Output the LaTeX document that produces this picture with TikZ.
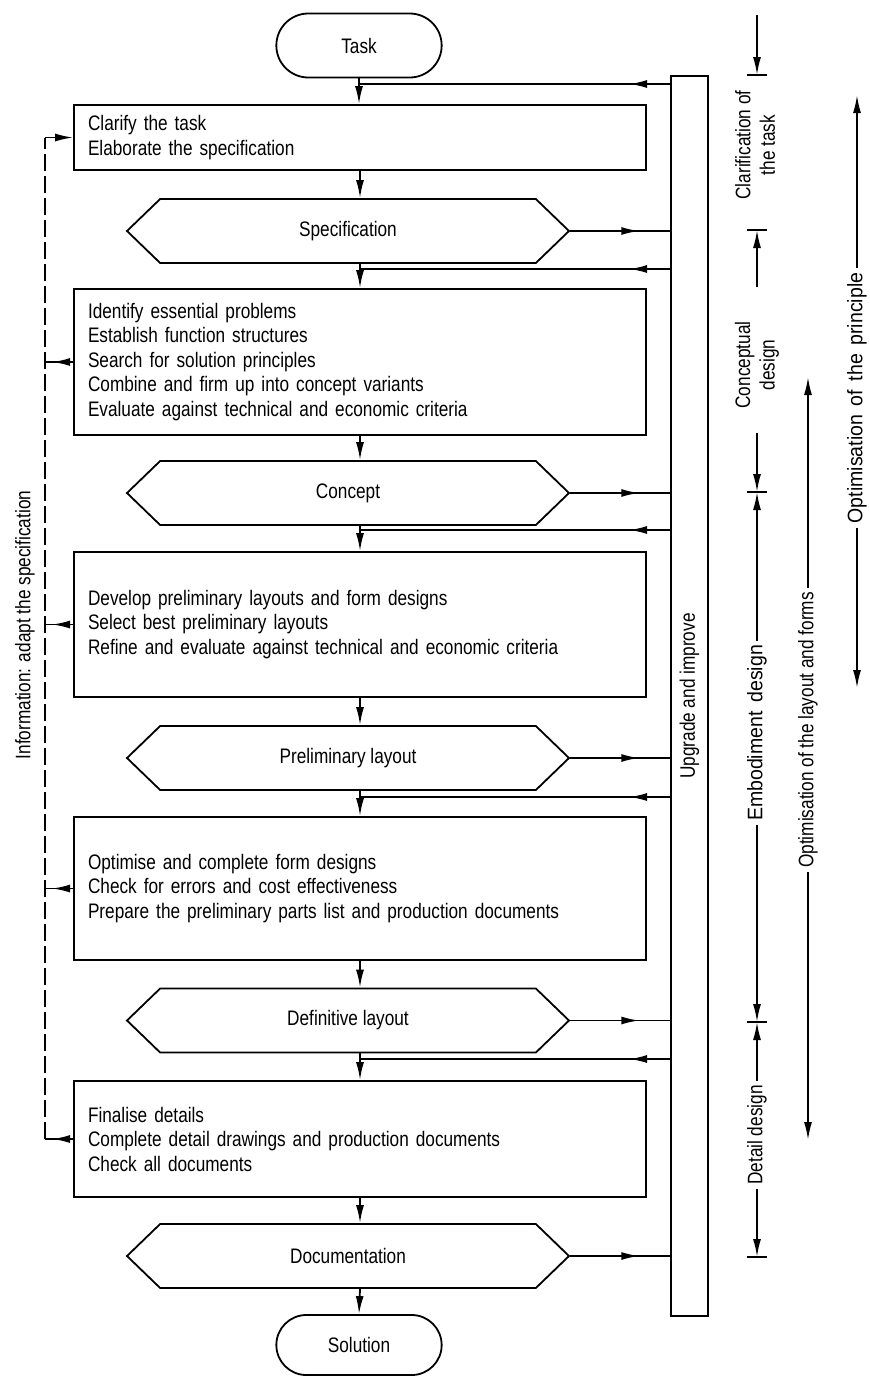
\documentclass[tikz,border=0pt]{standalone}
\usepackage{fontspec}
\usepackage{graphicx}
\setmainfont{Liberation Sans}[FakeStretch=0.82]
\newfontfamily\widesans{Liberation Sans}[FakeStretch=0.93,WordSpace=1.6]
\usetikzlibrary{arrows.meta,shapes.misc,shapes.symbols,decorations.markings}

\begin{document}
\begin{tikzpicture}[x=1pt,y=-1pt,line width=1.8pt,
  font=\fontsize{21}{24.5}\selectfont,
  >={Latex[length=18pt,width=8pt]},
  workbox/.style={draw,minimum width=572pt,text width=544pt,align=left,inner xsep=14pt},
  resulthex/.style={draw,signal,signal to=west and east,signal pointer angle=88,
    minimum width=442pt,minimum height=64pt},
  terminal/.style={draw,rounded rectangle,minimum width=172pt,minimum height=64pt},
  arrowat/.style={postaction={decorate},
    decoration={markings,mark=at position #1 with {\arrow{>}}}},
  phase/.style={rotate=90,align=center},
  widephase/.style={phase,font=\widesans\fontsize{21}{24.5}\selectfont},
  infoline/.style={dash pattern=on 17pt off 5pt},
  tickmark/.style={line width=1.5pt}]
  \useasboundingbox (0,0) rectangle (870,1377);
  % main flow
  \node[terminal] (task) at (359,45.5) {Task};
  \node[workbox,minimum height=65pt] (clarify) at (360,137.5)
    {Clarify the task\\Elaborate the specification};
  \node[resulthex] (spec) at (348,231) {Specification};
  \node[workbox,minimum height=146pt] (concwork) at (360,362)
    {Identify essential problems\\Establish function structures\\
     Search for solution principles\\Combine and firm up into concept variants\\
     Evaluate against technical and economic criteria};
  \node[resulthex] (concept) at (348,493) {Concept};
  \node[workbox,minimum height=145pt] (layoutwork) at (360,624.5)
    {Develop preliminary layouts and form designs\\Select best preliminary layouts\\
     Refine and evaluate against technical and economic criteria};
  \node[resulthex] (prelim) at (348,758) {Preliminary layout};
  \node[workbox,minimum height=143pt] (formwork) at (360,888.5)
    {Optimise and complete form designs\\Check for errors and cost effectiveness\\
     Prepare the preliminary parts list and production documents};
  \node[resulthex] (definitive) at (348,1020.5) {Definitive layout};
  \node[workbox,minimum height=116pt] (detailwork) at (360,1139)
    {Finalise details\\Complete detail drawings and production documents\\
     Check all documents};
  \node[resulthex] (docu) at (348,1256) {Documentation};
  \node[terminal,minimum height=60pt] (solution) at (359,1345) {Solution};
  \node[draw,minimum width=37pt,minimum height=1240pt,inner sep=0pt] (upgrade)
    at (689.5,696) {\rotatebox{90}{Upgrade and improve}};

  \draw[->] (task.south) -- (task.south |- clarify.north);
  \draw[->] (clarify.south) -- (clarify.south |- spec.north);
  \draw[->] (clarify.south |- spec.south) -- (concwork.north);
  \draw[->] (concwork.south) -- (concwork.south |- concept.north);
  \draw[->] (concwork.south |- concept.south) -- (layoutwork.north);
  \draw[->] (layoutwork.south) -- (layoutwork.south |- prelim.north);
  \draw[->] (layoutwork.south |- prelim.south) -- (formwork.north);
  \draw[->] (formwork.south) -- (formwork.south |- definitive.north);
  \draw[->] (formwork.south |- definitive.south) -- (detailwork.north);
  \draw[->] (detailwork.south) -- (detailwork.south |- docu.north);
  \draw[->] (detailwork.south |- docu.south) -- (solution.north);

  % upgrade and improve loop
  \coordinate (fb1) at (360,84);
  \coordinate (fb2) at (360,269);
  \coordinate (fb3) at (360,530);
  \coordinate (fb4) at (360,797);
  \coordinate (fb5) at (360,1059);
  \foreach \f in {fb1,fb2,fb3,fb4,fb5}
    \draw[arrowat=41pt] (upgrade.west |- \f) -- (\f);
  \foreach \r in {spec,concept,prelim,definitive,docu}
    \draw[arrowat=69pt] (\r.east) -- (\r.east -| upgrade.west);

  % information back to the task
  \coordinate (infotop) at (45,137.5);
  \coordinate (infobot) at (45,1139);
  \draw[infoline] (infobot) -- (infotop);
  \draw[->] (infotop) -- (clarify.west);
  \draw[arrowat=21pt] (concwork.west) -- (concwork.west -| infotop);
  \draw[arrowat=21pt] (layoutwork.west) -- (layoutwork.west -| infotop);
  \draw[arrowat=21pt] (formwork.west) -- (formwork.west -| infotop);
  \draw[arrowat=21pt] (detailwork.west) -- (infobot);
  \node[phase] (infolabel) at (25,625) {Information: adapt the specification};

  % phases
  \coordinate (ta) at (757,75);
  \coordinate (tb) at (757,230);
  \coordinate (tc) at (757,492);
  \coordinate (td) at (757,1022);
  \coordinate (te) at (757,1257);
  \foreach \t in {ta,tb,tc,td,te}
    \draw[tickmark] ([xshift=-10pt]\t) -- ([xshift=10pt]\t);
  \coordinate (clartop) at (757,15);
  \coordinate (concstart) at (757,287);
  \coordinate (concend) at (757,433);
  \node[phase] (clarlabel) at (755,145) {Clarification of\\the task};
  \node[phase] (conclabel) at (757,365) {Conceptual\\design};
  \node[widephase] (embodlabel) at (757,733) {Embodiment design};
  \node[phase] (detaillabel) at (757,1135) {Detail design};
  \draw[->] (clartop) -- (ta);
  \draw[->] (concstart) -- (tb);
  \draw[->] (concend) -- (tc);
  \draw[->] (embodlabel.east) -- (tc);
  \draw[->] (embodlabel.west) -- (td);
  \draw[->] (detaillabel.east) -- (td);
  \draw[->] (detaillabel.west) -- (te);

  % optimisation
  \coordinate (optlaytop) at (808,377);
  \coordinate (optlaybot) at (808,1140);
  \coordinate (optprintop) at (857,95);
  \coordinate (optprinbot) at (857,688);
  \node[phase] (optlay) at (808,730) {Optimisation of the layout and forms};
  \node[widephase] (optprin) at (857,398) {Optimisation of the principle};
  \draw[->] (optlay.east) -- (optlaytop);
  \draw[->] (optlay.west) -- (optlaybot);
  \draw[->] (optprin.east) -- (optprintop);
  \draw[->] (optprin.west) -- (optprinbot);
\end{tikzpicture}
\end{document}
